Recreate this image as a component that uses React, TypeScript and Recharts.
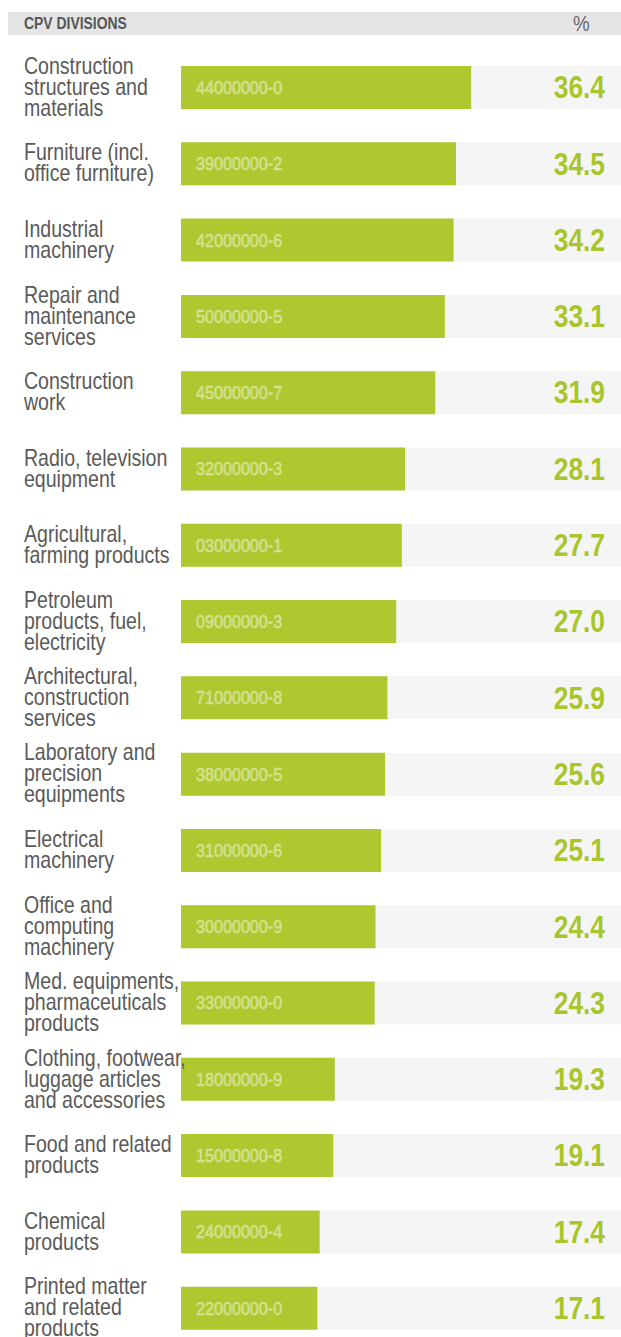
import { BarChart, Bar, XAxis, YAxis, LabelList } from 'recharts';

const categories = [
  'Construction\nstructures and\nmaterials',
  'Furniture (incl.\noffice furniture)',
  'Industrial\nmachinery',
  'Repair and\nmaintenance\nservices',
  'Construction\nwork',
  'Radio, television\nequipment',
  'Agricultural,\nfarming products',
  'Petroleum\nproducts, fuel,\nelectricity',
  'Architectural,\nconstruction\nservices',
  'Laboratory and\nprecision\nequipments',
  'Electrical\nmachinery',
  'Office and\ncomputing\nmachinery',
  'Med. equipments,\npharmaceuticals\nproducts',
  'Clothing, footwear,\nluggage articles\nand accessories',
  'Food and related\nproducts',
  'Chemical\nproducts',
  'Printed matter\nand related\nproducts',
];

const cpvCodes = [
  '44000000-0', '39000000-2', '42000000-6', '50000000-5', '45000000-7',
  '32000000-3', '03000000-1', '09000000-3', '71000000-8', '38000000-5',
  '31000000-6', '30000000-9', '33000000-0', '18000000-9', '15000000-8',
  '24000000-4', '22000000-0',
];

const shares = [
  36.4, 34.5, 34.2, 33.1, 31.9, 28.1, 27.7, 27.0, 25.9, 25.6,
  25.1, 24.4, 24.3, 19.3, 19.1, 17.4, 17.1,
];

const data = categories.map((name, i) => ({ name, code: cpvCodes[i], value: shares[i] }));

// no condensed face installed, so squeeze a regular one horizontally
const FONT = '"Liberation Sans", Arial, sans-serif';
const SQUEEZE = 0.85;
const WIDTH = 621;
const HEIGHT = 1337;

const CategoryTick = ({ y, payload }: any) => {
  const lines = String(payload.value).split('\n');
  const lh = 21;
  const start = -((lines.length - 1) * lh) / 2;
  return (
    <g transform={`translate(24 ${y}) scale(${SQUEEZE} 1)`}>
      <text x={0} y={start} fill="#5a5a5a" fontSize={23} fontFamily={FONT} dominantBaseline="central">
        {lines.map((l, i) => (
          <tspan key={i} x={0} y={start + i * lh}>
            {l}
          </tspan>
        ))}
      </text>
    </g>
  );
};

const ValueLabel = ({ y, height, value }: any) => (
  <g transform={`translate(${WIDTH - 16} ${y + height / 2}) scale(${SQUEEZE} 1)`}>
    <text
      x={0}
      y={0}
      textAnchor="end"
      dominantBaseline="central"
      fill="#a8c52c"
      fontSize={31}
      fontWeight="bold"
      fontFamily={FONT}
    >
      {Number(value).toFixed(1)}
    </text>
  </g>
);

const CodeLabel = ({ x, y, height, value }: any) => (
  <g transform={`translate(${x + 15} ${y + height / 2}) scale(${SQUEEZE} 1)`}>
    <text
      x={0}
      y={0}
      dominantBaseline="central"
      fill="#d4e194"
      stroke="#d4e194"
      strokeWidth={0.6}
      fontSize={19}
      fontFamily={FONT}
    >
      {value}
    </text>
  </g>
);

export default function App() {
  return (
    <div style={{ position: 'absolute', top: 0, left: 0, width: WIDTH, height: HEIGHT, background: '#fff', fontFamily: FONT }}>
      <div
        style={{
          position: 'absolute',
          top: 12,
          left: 8,
          width: WIDTH - 8,
          height: 23,
          background: '#e5e5e5',
        }}
      >
        <span
          style={{
            position: 'absolute',
            left: 16,
            top: 3,
            fontSize: 16,
            lineHeight: '18px',
            fontWeight: 'bold',
            color: '#555',
            transform: 'scaleX(0.87)',
            transformOrigin: 'left center',
            whiteSpace: 'nowrap',
          }}
        >
          CPV DIVISIONS
        </span>
        <span
          style={{
            position: 'absolute',
            left: 565,
            top: 0,
            fontSize: 22,
            lineHeight: '24px',
            color: '#666',
            transform: `scaleX(${SQUEEZE})`,
            transformOrigin: 'left center',
          }}
        >
          %
        </span>
      </div>
      <div style={{ position: 'absolute', top: 0, left: 0 }}>
        <BarChart
          width={WIDTH}
          height={HEIGHT}
          data={data}
          layout="vertical"
          margin={{ top: 49, right: 0, bottom: -9, left: 0 }}
        >
          <XAxis type="number" domain={[0, 55.2]} hide />
          <YAxis
            type="category"
            dataKey="name"
            width={181}
            axisLine={false}
            tickLine={false}
            interval={0}
            tick={<CategoryTick />}
          />
          <Bar dataKey="value" fill="#afc82f" barSize={43} background={{ fill: '#f5f5f5' }} isAnimationActive={false}>
            <LabelList dataKey="code" content={<CodeLabel />} />
            <LabelList dataKey="value" content={<ValueLabel />} />
          </Bar>
        </BarChart>
      </div>
    </div>
  );
}
